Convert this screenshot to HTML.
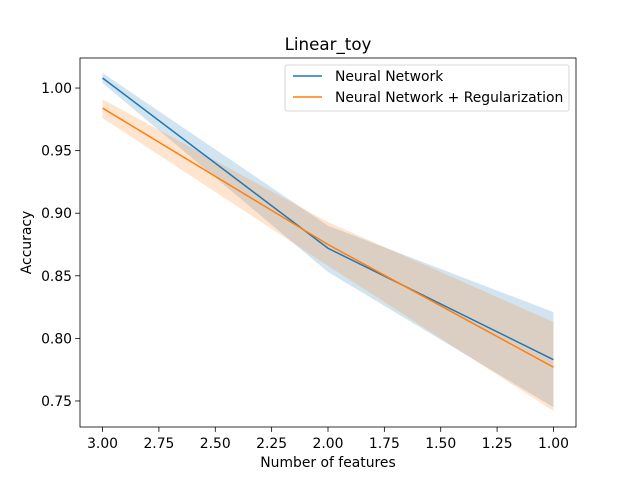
<!DOCTYPE html>
<html><head><meta charset="utf-8"><style>body{margin:0;background:#fff}svg{font-family:"DejaVu Sans","Liberation Sans",sans-serif}</style></head>
<body>
<svg id="chart" width="640" height="480" viewBox="0 0 640 480" xmlns="http://www.w3.org/2000/svg">
<rect width="640" height="480" fill="#fff"/>
<g id="plot"></g>
</svg>
<script>
const xValues=[3,2,1];
const nnMean=[1.008,0.872,0.783];
const nnLow=[1.004,0.853,0.745];
const nnHigh=[1.012,0.890,0.821];
const regMean=[0.984,0.875,0.777];
const regLow=[0.976,0.858,0.742];
const regHigh=[0.991,0.893,0.813];
const xTicks=[3.00,2.75,2.50,2.25,2.00,1.75,1.50,1.25,1.00];
const yTicks=[0.75,0.80,0.85,0.90,0.95,1.00];
const seriesNames=["Neural Network","Neural Network + Regularization"];

const L=80,R=576,T=58,B=427;
const xMin=3.1,xMax=0.9,yMin=0.7292,yMax=1.024;
const sx=v=>L+(v-xMin)/(xMax-xMin)*(R-L);
const sy=v=>B-(v-yMin)/(yMax-yMin)*(B-T);
const NS="http://www.w3.org/2000/svg";
const g=document.getElementById('plot');
function mk(tag,attrs,parent){const e=document.createElementNS(NS,tag);for(const k in attrs)e.setAttribute(k,attrs[k]);(parent||g).appendChild(e);return e;}
function band(lo,hi,color){
  let d='M'+xValues.map((x,i)=>sx(x)+','+sy(hi[i])).join('L');
  d+='L'+xValues.map((x,i)=>sx(x)+','+sy(lo[i])).reverse().join('L')+'Z';
  const p=mk('path',{d:d,fill:color,'fill-opacity':0.2});
  
}
function line(m,color){
  const p=mk('polyline',{points:xValues.map((x,i)=>sx(x)+','+sy(m[i])).join(' '),fill:'none',stroke:color,'stroke-width':1.5});
  
}
band(nnLow,nnHigh,'#1f77b4');

band(regLow,regHigh,'#ff7f0e');

line(nnMean,'#1f77b4');

line(regMean,'#ff7f0e');

const frame=mk('rect',{x:L,y:T,width:R-L,height:B-T,fill:'none',stroke:'#000','stroke-width':0.8});


xTicks.forEach(t=>{
  const x=sx(t);
  mk('line',{x1:x,x2:x,y1:B,y2:B+4.9,stroke:'#000','stroke-width':0.8});
  const tx=mk('text',{x:x,y:B+21,'font-size':13.9,'text-anchor':'middle'});
  tx.textContent=t.toFixed(2);
  
  
});
yTicks.forEach(t=>{
  const y=sy(t);
  mk('line',{x1:L,x2:L-4.9,y1:y,y2:y,stroke:'#000','stroke-width':0.8});
  const tx=mk('text',{x:L-8,y:y+5,'font-size':13.9,'text-anchor':'end'});
  tx.textContent=t.toFixed(2);
  
  
});
const xt=mk('text',{x:(L+R)/2,y:467,'font-size':13.9,'text-anchor':'middle'});xt.textContent='Number of features';


const yt=mk('text',{x:31,y:(T+B)/2,'font-size':13.9,'text-anchor':'middle',transform:'rotate(-90 31 '+(T+B)/2+')'});yt.textContent='Accuracy';


const ti=mk('text',{x:(L+R)/2,y:50,'font-size':16.7,'text-anchor':'middle'});ti.textContent='Linear_toy';


const lg=mk('g',{});


mk('rect',{x:285,y:65,width:284,height:46,rx:2,fill:'#fff','fill-opacity':0.8,stroke:'#ccc','stroke-width':0.8},lg);
['#1f77b4','#ff7f0e'].forEach((c,i)=>{
  const y=76+i*21;
  mk('line',{x1:293,x2:322,y1:y,y2:y,stroke:c,'stroke-width':1.5},lg);
  const t=mk('text',{x:335,y:y+5,'font-size':13.9},lg);
  t.textContent=seriesNames[i];
  
  
});
</script>
</body></html>
